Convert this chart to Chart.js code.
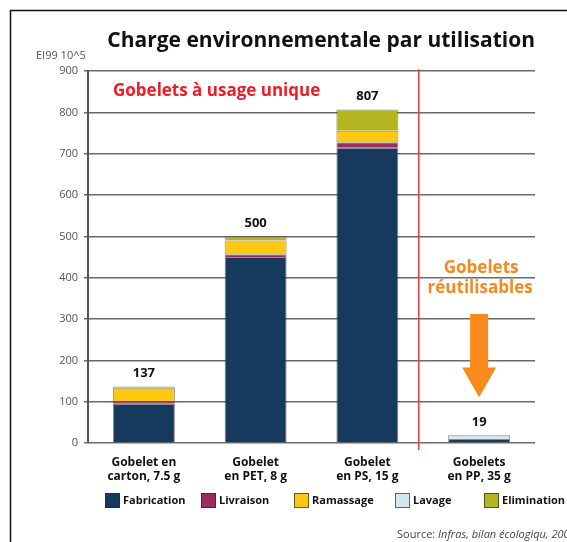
<!DOCTYPE html>
<html lang="fr">
<head>
    <meta charset="UTF-8">
    <title>Charge environnementale par utilisation</title>
    <script src="https://cdn.jsdelivr.net/npm/chart.js"></script>
    <style>
        html, body { margin: 0; padding: 0; background: #fff; }
        .cadre { position: relative; width: 567px; height: 542px; }
    </style>
</head>
<body>
    <div class="cadre">
        <canvas id="grafico" width="567" height="542"></canvas>
    </div>
<script>
    // donnees (EI99 10^5)
    const categorias = [["Gobelet en", "carton, 7.5 g"], ["Gobelet", "en PET, 8 g"], ["Gobelet", "en PS, 15 g"], ["Gobelets", "en PP, 35 g"]];
    const fabrication = [95, 450, 715, 10];
    const livraison = [6, 7, 13, null];
    const ramassage = [33, 33, 28, null];
    const lavage = [null, null, null, 9];
    const elimination = [3, 10, 51, null];
    const totais = [137, 500, 807, 19];
    const ticksY = [0, 100, 200, 300, 400, 500, 600, 700, 800, 900];

    const fonte = "'Open Sans', Lato, sans-serif";

    const legendaX = [105, 201, 294, 395, 484];

    const decoracao = {
        id: 'decoracao',
        afterDraw(chart) {
            const ctx = chart.ctx;
            const x = chart.scales.x;
            const y = chart.scales.y;
            const area = chart.chartArea;
            ctx.save();

            // cadre
            ctx.strokeStyle = '#111';
            ctx.lineWidth = 1.5;
            ctx.beginPath();
            ctx.moveTo(10.5, chart.height);
            ctx.lineTo(10.5, 10.5);
            ctx.lineTo(chart.width, 10.5);
            ctx.stroke();

            // unite
            ctx.fillStyle = '#555';
            ctx.font = "11px " + fonte;
            ctx.textAlign = 'left';
            ctx.textBaseline = 'middle';
            ctx.fillText('EI99 10^5', 36, 56);

            // ligne rouge
            const xr = x.getPixelForValue(2.46);
            ctx.strokeStyle = '#f0383a';
            ctx.lineWidth = 1.5;
            ctx.beginPath();
            ctx.moveTo(xr, area.top - 2);
            ctx.lineTo(xr, area.bottom + 7);
            ctx.stroke();

            // valeurs
            ctx.fillStyle = '#111';
            ctx.font = "bold 13px " + fonte;
            ctx.textAlign = 'center';
            ctx.textBaseline = 'middle';
            totais.forEach((t, i) => {
                let soma = 0;
                chart.data.datasets.forEach(ds => { soma += ds.data[i] || 0; });
                ctx.fillText(String(t), x.getPixelForValue(i), y.getPixelForValue(soma) - 13);
            });

            // textes
            ctx.fillStyle = '#ee1c25';
            ctx.font = "bold 17px " + fonte;
            ctx.textAlign = 'left';
            ctx.fillText('Gobelets à usage unique', area.left + 25, 91);

            const xo = x.getPixelForValue(3);
            ctx.fillStyle = '#f7891f';
            ctx.textAlign = 'center';
            ctx.fillText('Gobelets', xo + 2, 268);
            ctx.fillText('réutilisables', xo + 1, 288);

            // fleche
            ctx.fillStyle = '#f98a1b';
            ctx.beginPath();
            ctx.moveTo(xo - 9, y.getPixelForValue(312));
            ctx.lineTo(xo + 9, y.getPixelForValue(312));
            ctx.lineTo(xo + 9, y.getPixelForValue(183));
            ctx.lineTo(xo + 17, y.getPixelForValue(183));
            ctx.lineTo(xo, y.getPixelForValue(111));
            ctx.lineTo(xo - 17, y.getPixelForValue(183));
            ctx.lineTo(xo - 9, y.getPixelForValue(183));
            ctx.closePath();
            ctx.fill();

            // legende
            ctx.font = "bold 11px " + fonte;
            ctx.textAlign = 'left';
            chart.data.datasets.forEach((ds, i) => {
                const lx = legendaX[i];
                ctx.fillStyle = ds.backgroundColor;
                ctx.fillRect(lx, 493, 15, 15);
                ctx.strokeStyle = 'rgba(40,40,40,0.7)';
                ctx.lineWidth = 1;
                ctx.strokeRect(lx + 0.5, 493.5, 14, 14);
                ctx.fillStyle = '#111';
                ctx.fillText(ds.label, lx + 18, 501);
            });

            // source
            ctx.fillStyle = '#444';
            ctx.font = "11px " + fonte;
            ctx.fillText('Source: ', 397, 535);
            const w = ctx.measureText('Source: ').width;
            ctx.font = "italic 11px " + fonte;
            ctx.fillText('Infras, bilan écologiqu, 200.', 397 + w, 535);

            ctx.restore();
        }
    };

    const borda = 'rgba(30,30,30,0.5)';
    const dados = {
        labels: categorias,
        datasets: [
            { label: 'Fabrication', data: fabrication, backgroundColor: '#163a5e' },
            { label: 'Livraison', data: livraison, backgroundColor: '#9c2b5f' },
            { label: 'Ramassage', data: ramassage, backgroundColor: '#fcc910' },
            { label: 'Lavage', data: lavage, backgroundColor: '#d3e7ec' },
            { label: 'Elimination', data: elimination, backgroundColor: '#b3b61f' }
        ].map(ds => Object.assign(ds, {
            borderColor: borda,
            borderWidth: 1,
            categoryPercentage: 1,
            barPercentage: 0.555
        }))
    };

    const config = {
        type: 'bar',
        data: dados,
        options: {
            responsive: false,
            animation: false,
            layout: { padding: { top: 10, left: 10, right: 32, bottom: 54 } },
            plugins: {
                legend: { display: false },
                tooltip: { enabled: false },
                title: {
                    display: true,
                    text: 'Charge environnementale par utilisation',
                    align: 'end',
                    color: '#111',
                    font: { family: fonte, size: 21, weight: 'bold' },
                    padding: { top: 18, bottom: 18 }
                }
            },
            scales: {
                x: {
                    stacked: true,
                    grid: { display: false, drawTicks: false },
                    border: { display: false },
                    ticks: {
                        color: '#111',
                        padding: 13,
                        maxRotation: 0,
                        font: { family: fonte, size: 12, weight: 'bold', lineHeight: 1.15 }
                    },
                    afterFit(axis) { axis.height = 45; }
                },
                y: {
                    stacked: true,
                    min: 0,
                    max: 900,
                    afterBuildTicks(axis) { axis.ticks = ticksY.map(v => ({ value: v })); },
                    grid: { color: '#6a6a6a', lineWidth: 1.5, tickLength: 4 },
                    border: { color: '#555', width: 2 },
                    ticks: {
                        color: '#555',
                        padding: 6,
                        font: { family: fonte, size: 11 }
                    },
                    afterFit(axis) { axis.width = 78; }
                }
            }
        },
        plugins: [decoracao]
    };

    new Chart(document.getElementById('grafico'), config);
</script>
</body>
</html>
